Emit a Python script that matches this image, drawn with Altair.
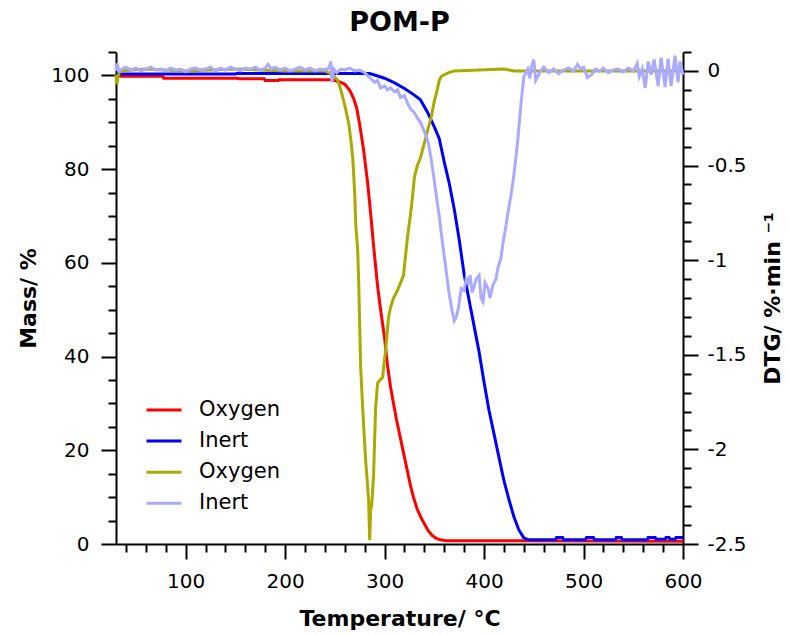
import altair as alt
import pandas as pd

# ---------------- data ----------------
# Mass curves (left axis, %)
T_OXY_MASS = [30, 77, 78, 152, 153, 179, 180, 193, 194, 245, 250, 255, 260, 265, 269, 272,
              275, 279, 283, 286, 289, 293, 296, 300, 303, 306, 309, 312, 315, 319, 323, 326,
              329, 333, 337, 340, 344, 348, 352, 356, 362, 600]
OXY_MASS = [99.8, 99.8, 99.4, 99.4, 99.3, 99.3, 98.9, 98.9, 99.1, 99.1, 98.9, 98.6, 98.1, 96.8,
            95.0, 93.0, 89.5, 84.0, 77.0, 70.5, 63.5, 55.0, 50.0, 44.0, 38.0, 33.5, 30.0, 26.5,
            23.5, 19.5, 15.5, 12.5, 10.0, 7.3, 5.5, 4.3, 2.8, 1.8, 1.2, 0.9, 0.7, 0.6]

T_INERT_MASS = [30, 150, 151, 285, 290, 300, 310, 320, 330, 336, 343, 350, 355, 360, 365, 370,
                375, 380, 385, 390, 395, 400, 405, 410, 415, 420, 425, 430, 435, 440, 445, 472,
                473, 479, 480, 502, 503, 510, 511, 532, 533, 538, 539, 564, 565, 572, 573, 582,
                583, 586, 587, 592, 593, 600]
INERT_MASS = [100.3, 100.3, 100.4, 100.4, 100.1, 99.4, 98.4, 97.2, 95.8, 94.8, 92.2, 89.0, 86.5,
              81.5, 77.0, 71.5, 65.0, 57.5, 52.0, 46.5, 41.0, 34.5, 28.5, 23.5, 18.5, 13.5, 9.5,
              5.8, 3.0, 1.3, 0.9, 0.9, 1.4, 1.4, 0.9, 0.9, 1.4, 1.4, 0.9, 0.9, 1.4, 1.4, 0.9,
              0.9, 1.4, 1.4, 1.0, 1.0, 1.4, 1.4, 1.0, 1.0, 1.4, 1.4]

# DTG curves (right axis, %/min)
T_OXY_DTG = [30, 31, 32, 34, 60, 100, 150, 200, 240, 248, 253, 256, 259, 262, 264, 266, 268, 270,
             271, 273, 274, 275, 276, 278, 279, 281, 283, 284, 285, 286, 287, 288, 289, 290, 291,
             293, 296, 298, 300, 301, 304, 306, 309, 313, 316, 319, 321, 323, 326, 328, 330, 333,
             336, 341, 344, 347, 350, 352, 355, 357, 360, 364, 370, 420, 430, 600]
OXY_DTG = [-0.02, -0.07, -0.03, 0.0, 0.01, 0.0, 0.01, 0.0, 0.0, -0.02, -0.05, -0.1, -0.16, -0.23,
           -0.28, -0.36, -0.46, -0.65, -0.81, -0.95, -1.12, -1.35, -1.57, -1.78, -1.88, -2.06,
           -2.2, -2.27, -2.48, -2.32, -2.3, -2.22, -2.13, -1.95, -1.78, -1.65, -1.63, -1.62,
           -1.52, -1.48, -1.3, -1.25, -1.2, -1.16, -1.12, -1.08, -0.98, -0.88, -0.76, -0.67,
           -0.56, -0.5, -0.46, -0.36, -0.3, -0.24, -0.16, -0.12, -0.05, -0.03, -0.02, -0.01,
           0.0, 0.01, 0.0, 0.0]

T_INERT_DTG = [30, 31, 33, 36, 40, 45, 50, 55, 60, 65, 70, 75, 80, 85, 90, 95, 100, 105, 110, 115,
               120, 125, 130, 135, 140, 145, 150, 155, 160, 165, 170, 175, 180, 183, 186, 190,
               195, 200, 205, 210, 215, 220, 225, 230, 235, 240, 244, 246, 247, 249, 252, 256,
               260, 265, 270, 275, 280, 284, 286, 290, 293, 296, 300, 303, 306, 310, 313, 316,
               320, 323, 326, 330, 333, 336, 340, 344, 347, 350, 352, 355, 358, 360, 363, 365,
               368, 370, 372, 374, 377, 380, 382, 384, 386, 388, 390, 392, 395, 397, 399, 401,
               404, 406, 409, 412, 414, 417, 419, 422, 424, 427, 429, 432, 434, 437, 440, 444,
               446, 448, 450, 452, 454, 457, 460, 465, 470, 475, 480, 485, 490, 494, 497, 500,
               504, 508, 512, 516, 520, 525, 530, 535, 540, 545, 550, 554, 556, 559, 562, 565,
               568, 571, 575, 578, 582, 585, 588, 590, 592, 595, 597, 600]
INERT_DTG = [0.0, 0.04, 0.0, 0.01, 0.02, 0.005, 0.015, 0.0, 0.01, 0.02, 0.005, 0.01, 0.0, 0.015,
             0.005, 0.01, -0.005, 0.01, 0.015, 0.005, 0.01, 0.02, 0.0, 0.015, 0.005, 0.02, 0.01,
             0.0, 0.015, 0.01, 0.02, 0.005, 0.015, 0.035, 0.01, 0.02, 0.005, 0.015, 0.0, 0.01,
             0.02, 0.005, 0.015, 0.0, 0.01, 0.005, 0.015, 0.05, -0.06, 0.01, -0.01, 0.01, 0.005,
             0.015, 0.0, 0.005, -0.01, -0.03, -0.04, -0.06, -0.05, -0.09, -0.08, -0.1, -0.09,
             -0.11, -0.1, -0.14, -0.13, -0.17, -0.2, -0.22, -0.25, -0.27, -0.32, -0.38, -0.47,
             -0.58, -0.66, -0.77, -0.9, -0.98, -1.1, -1.18, -1.27, -1.32, -1.3, -1.26, -1.15,
             -1.16, -1.1, -1.12, -1.08, -1.17, -1.14, -1.1, -1.08, -1.2, -1.22, -1.12, -1.15,
             -1.2, -1.13, -1.1, -1.04, -0.99, -0.91, -0.82, -0.75, -0.66, -0.59, -0.46, -0.36,
             -0.18, -0.03, 0.01, -0.04, 0.03, 0.06, -0.05, -0.03, 0.0, 0.02, -0.01, 0.01, -0.015,
             0.005, 0.015, 0.0, 0.035, 0.01, 0.02, -0.035, -0.02, 0.01, 0.0, 0.015, -0.01, 0.005,
             0.01, -0.005, 0.015, 0.0, 0.04, -0.03, 0.01, -0.09, 0.05, -0.02, 0.06, -0.08, 0.07,
             -0.085, 0.065, -0.08, 0.0, 0.08, -0.06, 0.05, -0.02]

SERIES = ["Oxygen|m", "Inert|m", "Oxygen|d", "Inert|d"]
COLORS = ["#ff0000", "#0000ff", "#aaaa00", "#aaaaff"]
WIDTHS = [3, 3, 3, 4]

X_TICKS = list(range(40, 601, 20))
MASS_TICKS = list(range(0, 106, 5))
DTG_TICKS = [round(-2.5 + 0.1 * i, 1) for i in range(27)]


def frame(t, v, name):
    return pd.DataFrame({"T": t, "value": v, "series": name})


mass_df = pd.concat([frame(T_OXY_MASS, OXY_MASS, SERIES[0]),
                     frame(T_INERT_MASS, INERT_MASS, SERIES[1])])
dtg_df = pd.concat([frame(T_OXY_DTG, OXY_DTG, SERIES[2]),
                    frame(T_INERT_DTG, INERT_DTG, SERIES[3])])

x_enc = alt.X(
    "T:Q",
    scale=alt.Scale(domain=[30, 600], nice=False, zero=False),
    axis=alt.Axis(
        title="Temperature/ °C",
        values=X_TICKS,
        labelExpr="datum.value % 100 == 0 ? datum.label : ''",
        tickSize={"condition": {"test": "datum.value % 100 == 0", "value": 15}, "value": 8},
        labelPadding=12,
        titlePadding=17,
        labelFlush=False,
        labelOverlap=False,
        grid=False,
    ),
)

color_enc = alt.Color(
    "series:N",
    scale=alt.Scale(domain=SERIES, range=COLORS),
    legend=alt.Legend(
        title=None,
        labelExpr="split(datum.label, '|')[0]",
        orient="none",
        legendX=34,
        legendY=344,
        padding=0,
        symbolType="M-1.4,0H1.4",
        symbolSize=625,
        symbolStrokeWidth=3.5,
        labelFont="DejaVu Sans",
        labelFontSize=21,
        labelColor="black",
        labelOffset=21,
        rowPadding=7.1,
    ),
)
sw_enc = alt.StrokeWidth("series:N", scale=alt.Scale(domain=SERIES, range=WIDTHS), legend=None)

mass = alt.Chart(mass_df).mark_line().encode(
    x=x_enc,
    y=alt.Y(
        "value:Q",
        scale=alt.Scale(domain=[0, 105], nice=False, zero=False),
        axis=alt.Axis(
            title="Mass/ %",
            orient="left",
            values=MASS_TICKS,
            labelExpr="datum.value % 20 == 0 ? datum.label : ''",
            tickSize={"condition": {"test": "datum.value % 20 == 0", "value": 15}, "value": 8},
            labelPadding=12,
            titlePadding=10,
            labelOverlap=False,
            labelFlush=False,
            grid=False,
        ),
    ),
    color=color_enc,
    strokeWidth=sw_enc,
)

dtg = alt.Chart(dtg_df).mark_line().encode(
    x=x_enc,
    y=alt.Y(
        "value:Q",
        scale=alt.Scale(domain=[-2.5, 0.1], nice=False, zero=False),
        axis=alt.Axis(
            title="DTG/ %·min ⁻¹",
            orient="right",
            values=DTG_TICKS,
            labelExpr="abs(round(datum.value*10)) % 5 == 0 ? '' + datum.value : ''",
            tickSize={"condition": {"test": "abs(round(datum.value*10)) % 5 == 0", "value": 15},
                      "value": 8},
            labelPadding=9,
            titleAngle=270,
            titleBaseline="top",
            titlePadding=16,
            labelOverlap=False,
            labelFlush=False,
            grid=False,
        ),
    ),
    color=color_enc,
    strokeWidth=sw_enc,
)

chart = (
    alt.layer(mass, dtg)
    .resolve_scale(y="independent")
    .properties(
        width=567,
        height=492,
        background="white",
        padding={"left": 116, "top": 52, "right": 107, "bottom": 90},
        autosize=alt.AutoSizeParams(type="none"),
        title=alt.TitleParams(
            "POM-P", font="DejaVu Sans", fontSize=27, fontWeight="bold",
            anchor="middle", offset=19, baseline="alphabetic", dy=35, color="black",
        ),
    )
    .configure_axis(
        domainColor="black", domainWidth=2, tickColor="black", tickWidth=2,
        labelColor="black", labelFont="DejaVu Sans", labelFontSize=20,
        titleFont="DejaVu Sans", titleFontSize=22, titleFontWeight="bold",
        titleColor="black", grid=False,
    )
    .configure_view(stroke=None)
)

chart.save("out.html", embed_options={"renderer": "svg", "actions": False})
